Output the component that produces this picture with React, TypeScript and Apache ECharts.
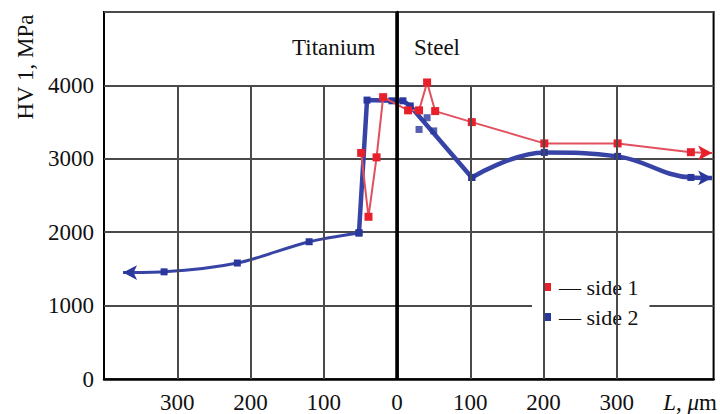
import React, { useEffect, useRef } from "react";
import * as echarts from "echarts";

// ---- data ----
const xGridTicks = [-300, -200, -100, 100, 200, 300];
const yTopGrid = 4000;
const redX = [-49, -39, -28, -19, 15, 30, 41, 52, 102, 201, 301, 401, 430];
const redY = [3080, 2210, 3020, 3840, 3660, 3660, 4040, 3650, 3500, 3210, 3210, 3090, 3080];
const blueLeftX = [-374, -318, -218, -120, -52];
const blueLeftY = [1450, 1460, 1580, 1870, 1990];
const blueMidX = [-52, -41, -7, 8, 18, 102];
const blueMidY = [1990, 3800, 3790, 3790, 3720, 2746];
const blueRightX = [102, 201, 301, 401, 430];
const blueRightY = [2746, 3087, 3033, 2746, 2740];
const blueExtraX = [30, 41, 50];
const blueExtraY = [3400, 3560, 3380];

const RED_LINE = "#e2505e";
const RED_MARK = "#e8202c";
const BLUE_LINE = "#3744a6";
const BLUE_MARK = "#2a379c";
const FONT = "Liberation Serif";

function pts(xs: number[], ys: number[], arrow?: "start" | "end", markSize = 7) {
  return xs.map((x, i) => {
    const item: any = { value: [x, ys[i]] };
    if (arrow === "start" && i === 0) {
      item.symbol = "arrow";
      item.symbolSize = [11, 14];
      item.symbolRotate = 90;
    } else if (arrow === "end" && i === xs.length - 1) {
      item.symbol = "arrow";
      item.symbolSize = [11, 14];
      item.symbolRotate = -90;
    } else {
      item.symbol = "rect";
      item.symbolSize = markSize;
    }
    return item;
  });
}

export default function App() {
  const ref = useRef<HTMLDivElement>(null);
  useEffect(() => {
    if (!ref.current) return;
    const chart = echarts.init(ref.current, undefined, { renderer: "svg" });
    const option: any = {
      animation: false,
      backgroundColor: "#fff",
      grid: {
        left: 104,
        top: 12,
        right: 5,
        bottom: 35,
        show: true,
        borderColor: "#000",
        borderWidth: 2,
      },
      xAxis: {
        type: "value",
        min: -400,
        max: 432,
        interval: 100,
        axisLine: { show: true, onZero: false, lineStyle: { color: "#000", width: 2.5 } },
        axisTick: { show: false },
        splitLine: { show: false },
        axisLabel: {
          margin: 12,
          fontSize: 23,
          fontFamily: FONT,
          color: "#111",
          showMinLabel: false,
          formatter: (v: number) => {
            if (v === -400) return "";
            if (v === 400) return "{i|L}, {i|μ}m";
            return String(Math.abs(v));
          },
          rich: {
            i: { fontStyle: "italic", fontSize: 23, fontFamily: FONT, color: "#111" },
          },
        },
      },
      yAxis: {
        type: "value",
        min: 0,
        max: 5000,
        interval: 1000,
        axisLine: { show: true, lineStyle: { color: "#000", width: 2.5 } },
        axisTick: { show: false },
        splitLine: { show: true, lineStyle: { color: "#4a4a4a", width: 2 } },
        axisLabel: {
          margin: 10,
          fontSize: 23,
          fontFamily: FONT,
          color: "#111",
          formatter: (v: number) => (v === 5000 ? "" : String(v)),
        },
      },
      legend: {
        data: ["side 1", "side 2"],
        orient: "vertical",
        left: 532,
        top: 265,
        icon: "rect",
        itemWidth: 8,
        itemHeight: 8,
        itemGap: 8,
        padding: [11, 11, 6, 11],
        backgroundColor: "#fff",
        formatter: "— {name}",
        textStyle: { fontSize: 22, fontFamily: FONT, color: "#111", padding: [0, 0, 0, 3] },
        selectedMode: false,
      },
      graphic: [
        {
          type: "text",
          x: 25,
          y: 67,
          rotation: Math.PI / 2,
          style: {
            text: "HV 1, MPa",
            fontSize: 23,
            fontFamily: FONT,
            fill: "#111",
            align: "center",
            verticalAlign: "middle",
          },
        },
        {
          type: "text",
          x: 292,
          y: 47,
          style: {
            text: "Titanium",
            fontSize: 23,
            fontFamily: FONT,
            fill: "#111",
            align: "left",
            verticalAlign: "middle",
          },
        },
        {
          type: "text",
          x: 414,
          y: 47,
          style: {
            text: "Steel",
            fontSize: 23,
            fontFamily: FONT,
            fill: "#111",
            align: "left",
            verticalAlign: "middle",
          },
        },
      ],
      series: [
        {
          type: "line",
          name: "gridlines",
          data: [],
          z: 1,
          silent: true,
          markLine: {
            silent: true,
            symbol: ["none", "none"],
            label: { show: false },
            lineStyle: { color: "#4a4a4a", width: 2, type: "solid" },
            data: xGridTicks.map((x) => [{ coord: [x, 0] }, { coord: [x, yTopGrid] }]),
          },
        },
        {
          type: "line",
          name: "interface",
          data: [],
          z: 1,
          silent: true,
          markLine: {
            silent: true,
            symbol: ["none", "none"],
            label: { show: false },
            lineStyle: { color: "#000", width: 3.5, type: "solid" },
            data: [[{ coord: [0, 0] }, { coord: [0, 5000] }]],
          },
        },
        {
          type: "line",
          name: "side 1",
          z: 4,
          data: pts(redX, redY, "end", 8),
          lineStyle: { color: RED_LINE, width: 2 },
          itemStyle: { color: RED_MARK },
          color: RED_MARK,
        },
        {
          type: "line",
          name: "side 2",
          z: 3,
          smooth: 0.3,
          data: pts(blueLeftX, blueLeftY, "start"),
          lineStyle: { color: BLUE_LINE, width: 3 },
          itemStyle: { color: BLUE_MARK },
          color: BLUE_MARK,
        },
        {
          type: "line",
          name: "side 2",
          z: 3,
          data: pts(blueMidX, blueMidY),
          lineStyle: { color: BLUE_LINE, width: 4.5 },
          itemStyle: { color: BLUE_MARK },
          color: BLUE_MARK,
        },
        {
          type: "line",
          name: "side 2",
          z: 3,
          smooth: 0.4,
          data: pts(blueRightX, blueRightY, "end"),
          lineStyle: { color: BLUE_LINE, width: 4.5 },
          itemStyle: { color: BLUE_MARK },
          color: BLUE_MARK,
        },
        {
          type: "scatter",
          name: "side 2",
          z: 3,
          symbol: "rect",
          symbolSize: 7,
          data: blueExtraX.map((x, i) => [x, blueExtraY[i]]),
          itemStyle: { color: BLUE_MARK },
        },
      ],
    };
    chart.setOption(option);
    return () => chart.dispose();
  }, []);
  return (
    <div
      ref={ref}
      style={{ position: "fixed", left: 0, top: 0, width: 720, height: 414 }}
    />
  );
}
